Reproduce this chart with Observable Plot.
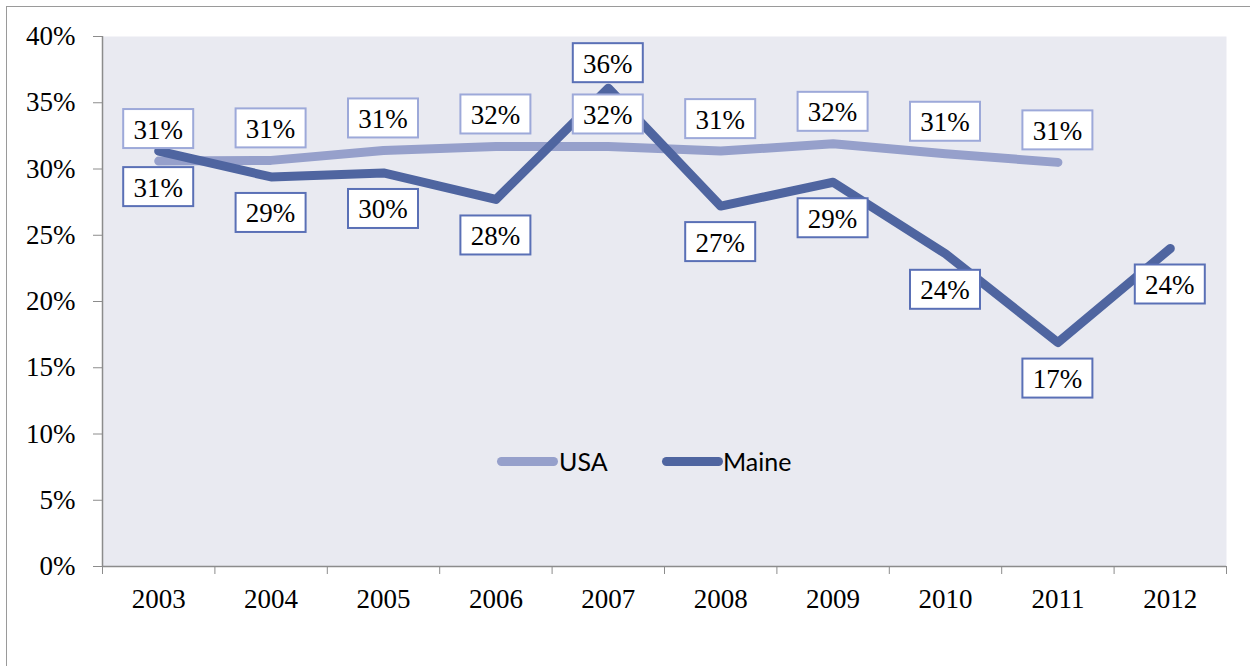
<!DOCTYPE html>
<html>
<head>
<meta charset="utf-8">
<script src="https://cdn.jsdelivr.net/npm/d3@7"></script>
<script src="https://cdn.jsdelivr.net/npm/@observablehq/plot@0.6"></script>
<style>
  html, body { margin: 0; padding: 0; background: #fff; }
  #wrap { position: relative; width: 1250px; height: 666px; overflow: hidden; }
  #frame { position: absolute; left: 6px; top: 6px; width: 1300px; height: 700px;
           border-left: 1.5px solid #9a9a9a; border-top: 1.5px solid #9a9a9a; pointer-events: none; }
  #legend { position: absolute; left: 0; top: 0; font-family: Lato, "Open Sans", sans-serif; font-size: 25px; color: #000; }
  .sw { position: absolute; height: 9px; width: 61px; border-radius: 5px; }
  .lt { position: absolute; line-height: 30px; }
</style>
</head>
<body>
<div id="wrap">
  <div id="chart"></div>
  <div id="frame"></div>
  <div id="legend"></div>
</div>
<script>
// ---- data ----
const years = [2003, 2004, 2005, 2006, 2007, 2008, 2009, 2010, 2011, 2012];
const usaValues = [0.306, 0.3065, 0.314, 0.317, 0.317, 0.3135, 0.319, 0.3115, 0.305, null];
const maineValues = [0.3135, 0.294, 0.297, 0.277, 0.361, 0.272, 0.290, 0.236, 0.169, 0.240];
const yTicks = [0, 0.05, 0.10, 0.15, 0.20, 0.25, 0.30, 0.35, 0.40];
const seriesNames = ["USA", "Maine"];
const seriesColors = ["#96A0CB", "#4F65A0"];
const labelBorders = ["#9DA9D9", "#5A70B6"];
const maineLabelAbove = [2007];

const usa = years.map((year, i) => ({year, v: usaValues[i]})).filter(d => d.v != null);
const maine = years.map((year, i) => ({year, v: maineValues[i]}));
const boundaries = years.map(y => y - 0.5).concat([years[years.length - 1] + 0.5]);

const serif = "'Liberation Serif', 'Times New Roman', serif";
const fmt = d3.format(".0%");

function labelBoxes(data, border, offsetFn) {
  return Plot.text(data, {
    x: "year", y: "v", text: d => fmt(d.v),
    render: (index, scales, values) => {
      const g = d3.create("svg:g");
      for (const i of index) {
        const cx = values.x[i];
        const cy = values.y[i] + offsetFn(data[i]);
        g.append("rect")
          .attr("x", cx - 35).attr("y", cy - 19.5)
          .attr("width", 70).attr("height", 39)
          .attr("fill", "#fff").attr("stroke", border).attr("stroke-width", 2);
        g.append("text")
          .attr("x", cx).attr("y", cy + 1)
          .attr("text-anchor", "middle").attr("dominant-baseline", "central")
          .attr("font-family", serif).attr("font-size", 27).attr("fill", "#000")
          .text(fmt(data[i].v));
      }
      return g.node();
    }
  });
}

const chart = Plot.plot({
  width: 1250,
  height: 666,
  marginLeft: 102,
  marginRight: 24,
  marginTop: 36,
  marginBottom: 100,
  style: {fontFamily: serif, fontSize: "27px", color: "#000", background: "transparent"},
  x: {type: "linear", domain: [years[0] - 0.5, years[years.length - 1] + 0.5]},
  y: {domain: [0, 0.4]},
  marks: [
    Plot.frame({fill: "#E9EAF1", stroke: null}),
    Plot.axisY({ticks: yTicks, tickFormat: fmt, tickSize: 9, tickPadding: 18, stroke: "#8c8c8c", fill: "#000", fontSize: 27, label: null}),
    Plot.axisX({ticks: boundaries, tickFormat: () => "", tickSize: 8, stroke: "#8c8c8c", label: null}),
    Plot.axisX({ticks: years, tickFormat: d => String(d), tickSize: 0, tickPadding: 22, fill: "#000", fontSize: 27, label: null}),
    Plot.ruleX([years[0] - 0.5], {stroke: "#8c8c8c", strokeWidth: 1.5}),
    Plot.ruleY([0], {stroke: "#8c8c8c", strokeWidth: 1.5}),
    Plot.line(usa, {x: "year", y: "v", stroke: seriesColors[0], strokeWidth: 9, strokeLinecap: "round", strokeLinejoin: "round"}),
    Plot.line(maine, {x: "year", y: "v", stroke: seriesColors[1], strokeWidth: 9, strokeLinecap: "round", strokeLinejoin: "round"}),
    labelBoxes(usa, labelBorders[0], () => -32),
    labelBoxes(maine, labelBorders[1], d => maineLabelAbove.includes(d.year) ? -25 : 36)
  ]
});
document.getElementById("chart").appendChild(chart);

// legend (inside plot area, as in the original)
const legend = document.getElementById("legend");
const legendPos = [{sw: 497, tx: 559}, {sw: 662, tx: 723}];
seriesNames.forEach((name, i) => {
  const sw = document.createElement("div");
  sw.className = "sw";
  sw.style.left = legendPos[i].sw + "px";
  sw.style.top = "456.5px";
  sw.style.background = seriesColors[i];
  legend.appendChild(sw);
  const t = document.createElement("div");
  t.className = "lt";
  t.style.left = legendPos[i].tx + "px";
  t.style.top = "446px";
  t.textContent = name;
  legend.appendChild(t);
});
</script>
</body>
</html>
